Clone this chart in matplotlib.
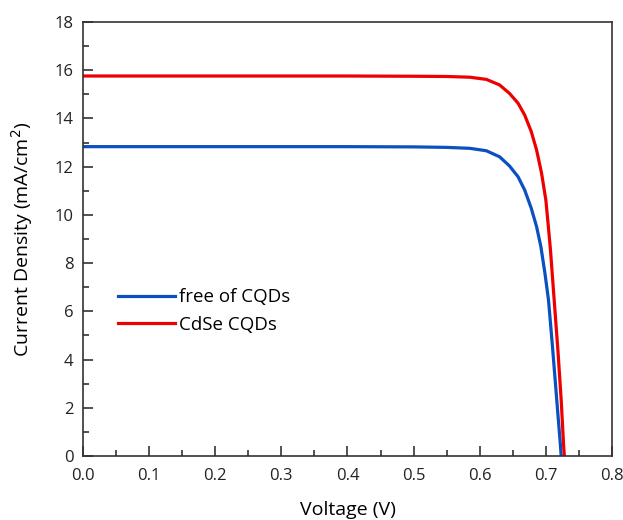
import matplotlib
matplotlib.use("Agg")
import matplotlib.pyplot as plt
from matplotlib.ticker import MultipleLocator

plt.rcParams['font.family'] = ['Open Sans', 'DejaVu Sans']

# free of CQDs
v_free = [0.0, 0.2, 0.4, 0.50, 0.55, 0.585, 0.610, 0.630, 0.645, 0.658, 0.668, 0.678,
          0.686, 0.6925, 0.6985, 0.7040, 0.7100, 0.7165, 0.7220, 0.7232]
j_free = [12.83, 12.83, 12.83, 12.82, 12.80, 12.76, 12.66, 12.41, 12.03, 11.58, 11.03, 10.27,
          9.51, 8.68, 7.60, 6.47, 4.55, 2.32, 0.46, 0.0]

# CdSe CQDs
v_cdse = [0.0, 0.2, 0.4, 0.50, 0.55, 0.585, 0.610, 0.630, 0.645, 0.658, 0.668, 0.678,
          0.686, 0.6935, 0.700, 0.7035, 0.707, 0.7126, 0.7182, 0.7232, 0.7268, 0.728]
j_cdse = [15.76, 15.76, 15.76, 15.75, 15.74, 15.71, 15.62, 15.39, 15.04, 14.63, 14.14, 13.45,
          12.69, 11.73, 10.62, 9.60, 8.54, 6.47, 4.40, 2.32, 0.46, 0.0]

fig = plt.figure(figsize=(6.23, 5.2), dpi=100)
ax = fig.add_axes([0.1332, 0.1231, 0.8491, 0.8346])

ax.plot(v_free, j_free, color='#0a50c0', lw=2.3, label='free of CQDs', solid_joinstyle='round')
ax.plot(v_cdse, j_cdse, color='#ee0000', lw=2.3, label='CdSe CQDs', solid_joinstyle='round')

ax.set_xlim(0, 0.8)
ax.set_ylim(0, 18)
ax.xaxis.set_major_locator(MultipleLocator(0.1))
ax.xaxis.set_minor_locator(MultipleLocator(0.05))
ax.yaxis.set_major_locator(MultipleLocator(2))
ax.yaxis.set_minor_locator(MultipleLocator(1))
ax.tick_params(which='both', direction='in', top=False, right=False, labelsize=12, colors='#222222')
ax.tick_params(which='major', length=7, width=1.1)
ax.tick_params(which='minor', length=4, width=1.1)
ax.tick_params(axis='x', pad=9)
ax.tick_params(axis='y', pad=7)
for s in ax.spines.values():
    s.set_linewidth(1.2)
    s.set_color('#333333')

ax.set_xlabel('Voltage (V)', fontsize=14, labelpad=12)
ax.set_ylabel('Current Density (mA/cm$^2$)', fontsize=14, labelpad=14)

ax.legend(loc='upper left', bbox_to_anchor=(0.035, 0.425), frameon=False, fontsize=13.5,
          handlelength=3.0, handletextpad=0.25, labelspacing=0.5)

fig.savefig('out.png', dpi=100)
